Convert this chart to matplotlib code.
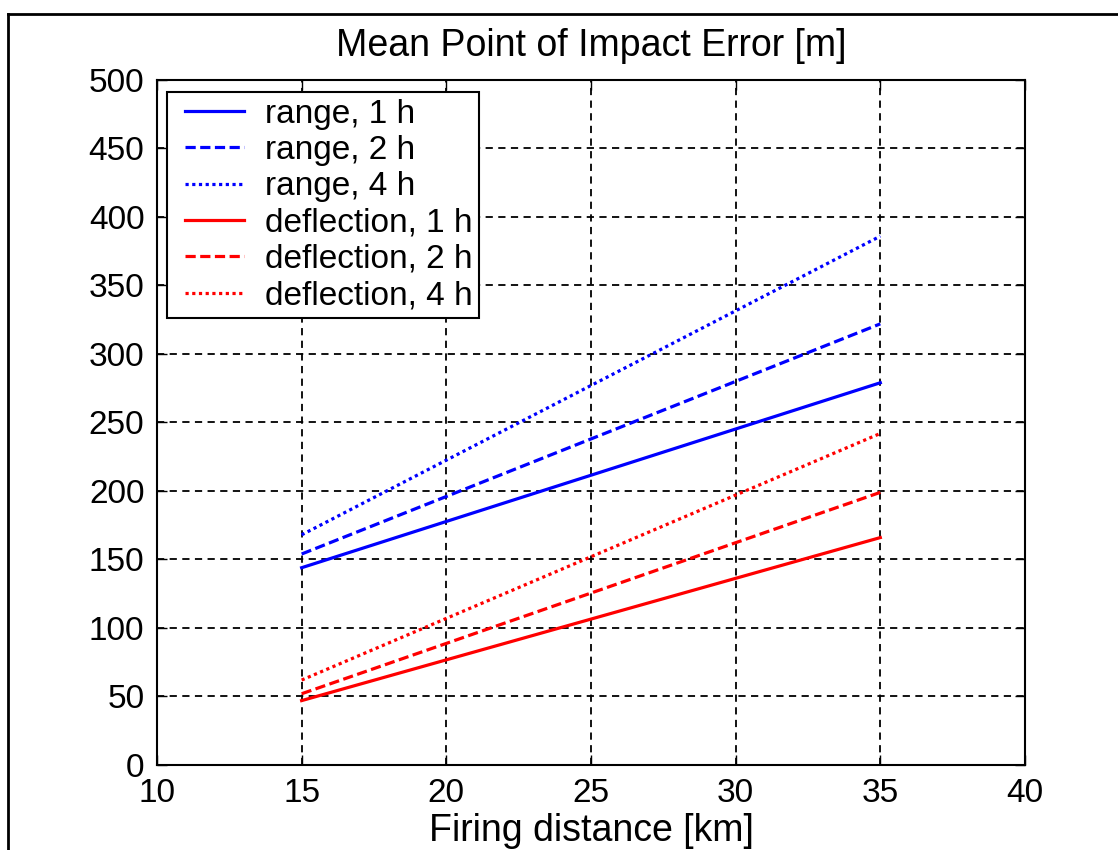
import numpy as np
import matplotlib.pyplot as plt
from matplotlib.lines import Line2D
from matplotlib.legend_handler import HandlerLine2D

plt.rcParams['font.family'] = ['Liberation Sans', 'DejaVu Sans']

# firing distance [km]
distance = [15, 35]

# mean point of impact error [m]
range_1h = [144, 279]
range_2h = [154, 322]
range_4h = [168, 386]
defl_1h = [47, 166]
defl_2h = [52, 199]
defl_4h = [62, 242]

labels = ['range, 1 h', 'range, 2 h', 'range, 4 h',
          'deflection, 1 h', 'deflection, 2 h', 'deflection, 4 h']

fig = plt.figure(figsize=(11.18, 8.50), dpi=100)
ax = fig.add_axes([0.1404, 0.1, 0.7764, 0.8059])

ax.plot(distance, range_1h, color='blue', lw=2.3, ls='-', label=labels[0])
ax.plot(distance, range_2h, color='blue', lw=2.3, ls=(0, (3.2, 1.4)), label=labels[1])
ax.plot(distance, range_4h, color='blue', lw=2.3, ls=(0, (1, 1.1)), label=labels[2])
ax.plot(distance, defl_1h, color='red', lw=2.3, ls='-', label=labels[3])
ax.plot(distance, defl_2h, color='red', lw=2.3, ls=(0, (3.2, 1.4)), label=labels[4])
ax.plot(distance, defl_4h, color='red', lw=2.3, ls=(0, (1, 1.1)), label=labels[5])

ax.set_xlim(10, 40)
ax.set_ylim(0, 500)
ax.set_xticks(np.arange(10, 41, 5))
ax.set_yticks(np.arange(0, 501, 50))
ax.grid(True, color='black', ls=(0, (4, 3)), lw=1.3)
ax.tick_params(direction='in', top=True, right=True, length=7, width=1,
               labelsize=24)
ax.tick_params(axis='x', pad=9)
ax.tick_params(axis='y', pad=9)
for s in ax.spines.values():
    s.set_linewidth(1.5)

ax.set_title('Mean Point of Impact Error [m]', fontsize=27, pad=17)
ax.set_xlabel('Firing distance [km]', fontsize=27, labelpad=3)

leg = ax.legend(loc='upper left', bbox_to_anchor=(0.0115, 0.9825),
                borderaxespad=0, fancybox=False, framealpha=1,
                edgecolor='black', fontsize=24, handlelength=2.1,
                handletextpad=0.63, labelspacing=0.16, borderpad=0.2,
                handler_map={Line2D: HandlerLine2D(xpad=0.35)})
leg.get_frame().set_linewidth(1.5)

# figure frame (left and top edges visible)
fig.add_artist(Line2D([8 / 1118, 8 / 1118], [0, 1 - 14 / 850], color='black', lw=2))
fig.add_artist(Line2D([8 / 1118, 1], [1 - 14 / 850, 1 - 14 / 850], color='black', lw=2))

fig.savefig('out.png', dpi=100)
